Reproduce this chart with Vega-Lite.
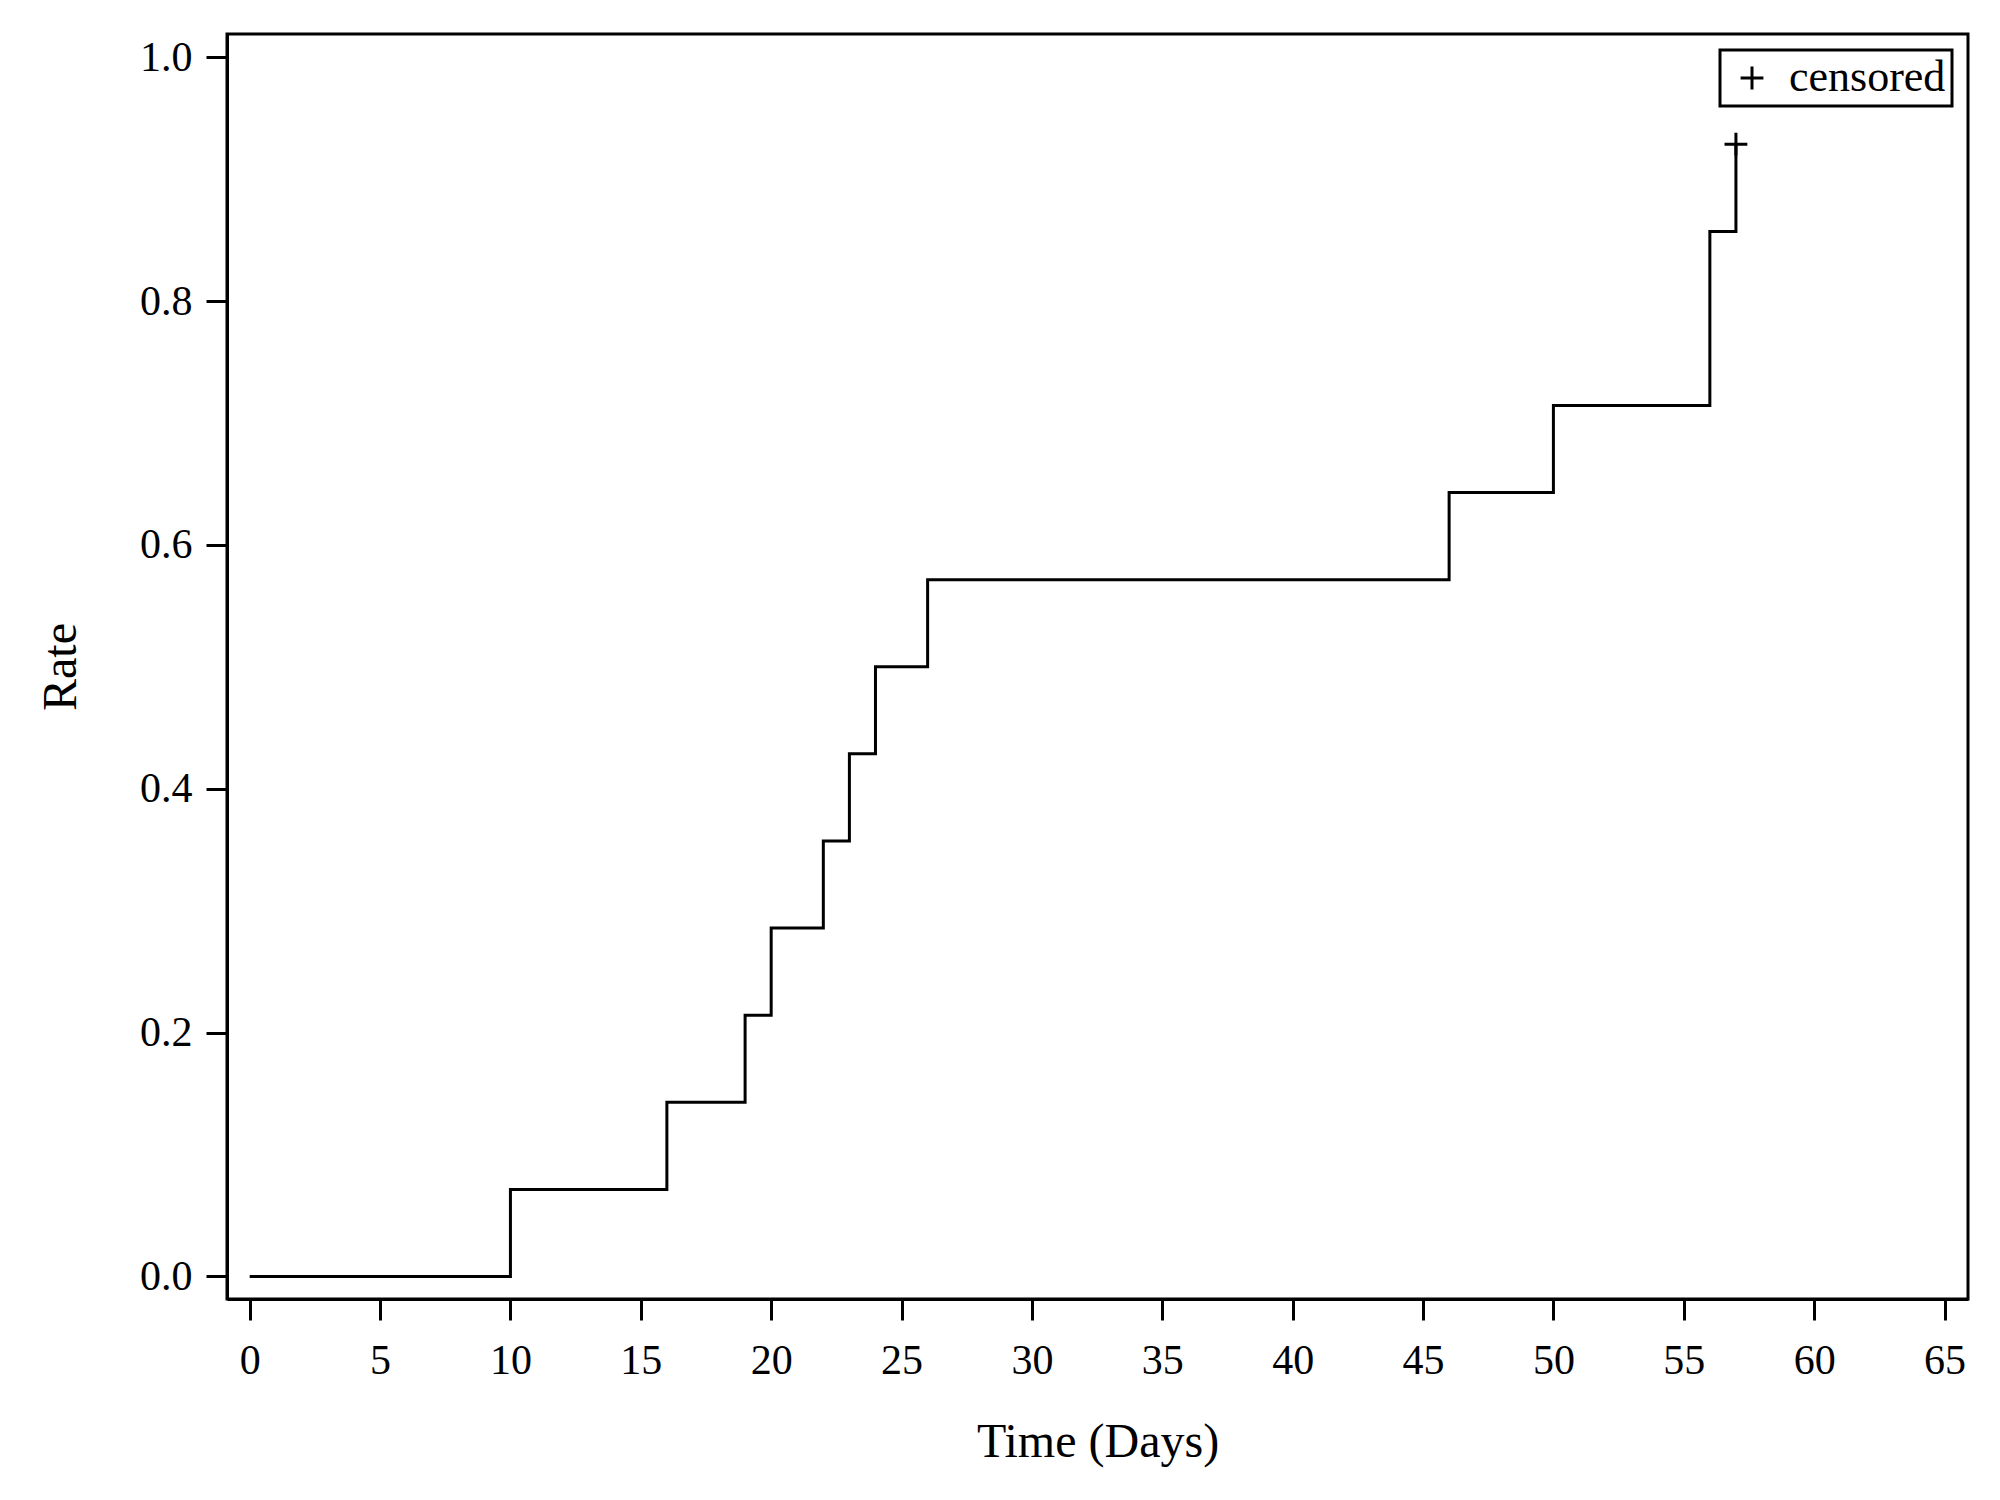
{
  "$schema": "https://vega.github.io/schema/vega-lite/v6.json",
  "autosize": {"type": "none"},
  "width": 1741,
  "height": 1265,
  "padding": {"left": 227, "top": 34, "right": 32, "bottom": 201},
  "background": "white",
  "datasets": {
    "km": [
      {"time": 0, "rate": 0},
      {"time": 10, "rate": 0.0714},
      {"time": 16, "rate": 0.1429},
      {"time": 19, "rate": 0.2143},
      {"time": 20, "rate": 0.2857},
      {"time": 22, "rate": 0.3571},
      {"time": 23, "rate": 0.4286},
      {"time": 24, "rate": 0.5},
      {"time": 26, "rate": 0.5714},
      {"time": 46, "rate": 0.6429},
      {"time": 50, "rate": 0.7143},
      {"time": 56, "rate": 0.8571},
      {"time": 57, "rate": 0.9286}
    ],
    "cens": [
      {"time": 57, "rate": 0.9286, "status": "censored"}
    ]
  },
  "config": {
    "view": {"stroke": "black", "strokeWidth": 3},
    "font": "Liberation Serif",
    "axis": {
      "grid": false,
      "domainColor": "black",
      "domainWidth": 3,
      "tickColor": "black",
      "tickWidth": 3,
      "tickSize": 21,
      "labelFont": "Liberation Serif",
      "labelFontSize": 42,
      "labelColor": "black",
      "titleFont": "Liberation Serif",
      "titleFontSize": 48,
      "titleFontWeight": "normal",
      "titleColor": "black"
    },
    "legend": {
      "labelFont": "Liberation Serif",
      "labelFontSize": 44,
      "labelColor": "black",
      "strokeWidth": 3
    }
  },
  "layer": [
    {
      "data": {"name": "km"},
      "mark": {"type": "line", "interpolate": "step-after", "color": "black", "strokeWidth": 3},
      "encoding": {
        "x": {
          "field": "time",
          "type": "quantitative",
          "scale": {"domain": [-0.87, 65.9], "nice": false, "zero": false},
          "axis": {"title": "Time (Days)", "values": [0,5,10,15,20,25,30,35,40,45,50,55,60,65], "labelPadding": 20, "titlePadding": 37}
        },
        "y": {
          "field": "rate",
          "type": "quantitative",
          "scale": {"domain": [-0.0185, 1.019], "nice": false, "zero": false},
          "axis": {"title": "Rate", "values": [0, 0.2, 0.4, 0.6, 0.8, 1.0], "format": ".1f", "labelPadding": 14, "titlePadding": 54}
        }
      }
    },
    {
      "data": {"name": "cens"},
      "mark": {"type": "point", "filled": false, "color": "black", "strokeWidth": 3, "size": 520, "opacity": 1},
      "encoding": {
        "x": {"field": "time", "type": "quantitative"},
        "y": {"field": "rate", "type": "quantitative"},
        "shape": {
          "field": "status",
          "type": "nominal",
          "scale": {"domain": ["censored"], "range": ["M-1,0H1M0,-1V1"]},
          "legend": {
            "title": null,
            "orient": "top-right",
            "offset": 16,
            "strokeColor": "black",
            "padding": 6,
            "symbolOffset": 4,
            "labelOffset": 15,
            "symbolSize": 520,
            "symbolStrokeWidth": 3,
            "symbolStrokeColor": "black",
            "symbolFillColor": "transparent",
            "symbolType": "M-1,0H1M0,-1V1"
          }
        }
      }
    }
  ]
}
